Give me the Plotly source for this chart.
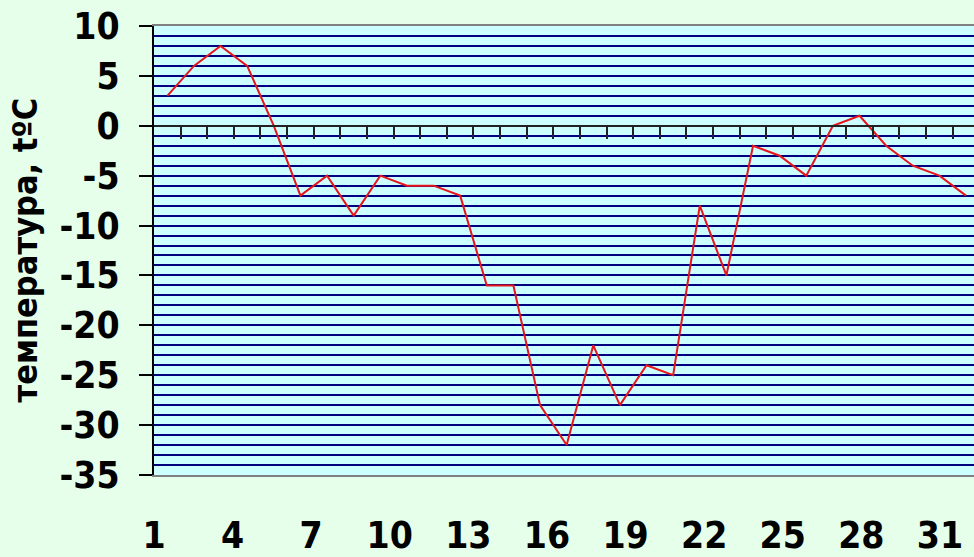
import plotly.graph_objects as go

# ---- data ----
days = list(range(1, 32))
temps = [3, 6, 8, 6, 0, -7, -5, -9, -5, -6, -6, -7, -16, -16, -28, -32, -22, -28,
         -24, -25, -8, -15, -2, -3, -5, 0, 1, -2, -4, -5, -7]
x_tick_labels = [1, 4, 7, 10, 13, 16, 19, 22, 25, 28, 31]
y_ticks = [10, 5, 0, -5, -10, -15, -20, -25, -30, -35]
y_title = "температура, tºC"

X_RANGE = [0.5, 31.3]
Y_RANGE = [-35, 10]

FONT = "DejaVu Sans Condensed, DejaVu Sans, sans-serif"

fig = go.Figure()
fig.add_trace(go.Scatter(x=days, y=temps, mode="lines",
                         line=dict(color="#E8141C", width=2),
                         showlegend=False, hoverinfo="skip"))
# invisible trace on the zero-crossing axis
fig.add_trace(go.Scatter(x=[days[0]], y=[0], xaxis="x2", mode="markers",
                         marker=dict(opacity=0), showlegend=False, hoverinfo="skip"))

label_pos = [k - 0.5 - 0.016 * (k - 1) for k in x_tick_labels]
zero_pos = (0 - Y_RANGE[0]) / (Y_RANGE[1] - Y_RANGE[0])

fig.update_layout(
    width=974, height=557,
    margin=dict(l=154, r=0, t=26, b=82),
    paper_bgcolor="#E6FFEA",
    plot_bgcolor="#CCFFFF",
    font=dict(family=FONT, color="black"),
    xaxis=dict(range=X_RANGE, showgrid=False, zeroline=False, automargin=False,
               showline=True, linecolor="#808080", linewidth=2, mirror=True,
               tickmode="array", tickvals=label_pos,
               ticktext=[str(k) for k in x_tick_labels],
               ticks="", ticklabelstandoff=27,
               tickfont=dict(family=FONT, size=37, color="black", weight="bold")),
    xaxis2=dict(range=X_RANGE, overlaying="x", anchor="free", position=zero_pos,
                side="bottom", showgrid=False, zeroline=False, automargin=False,
                showline=True, linecolor="#222222", linewidth=2,
                tickmode="array", tickvals=[d + 0.5 for d in days[:-1]],
                ticks="outside", ticklen=12, tickwidth=2, tickcolor="#222222",
                showticklabels=False),
    yaxis=dict(range=Y_RANGE, tickmode="array", tickvals=y_ticks,
               ticktext=[str(v) for v in y_ticks], automargin=False,
               ticks="outside", ticklen=13, tickwidth=2, tickcolor="black",
               showline=True, linecolor="black", linewidth=2,
               zeroline=False, showgrid=True, gridcolor="#000080", gridwidth=2,
               minor=dict(dtick=1, showgrid=True, gridcolor="#000080", gridwidth=2,
                          ticks=""),
               ticklabelstandoff=12,
               tickfont=dict(family=FONT, size=37, color="black", weight="bold")),
    annotations=[dict(text=y_title, xref="paper", yref="paper",
                      x=(24 - 154) / 820, y=0.5, xanchor="center", yanchor="middle",
                      textangle=-90, showarrow=False,
                      font=dict(family=FONT, size=34, color="black", weight="bold"))],
)

fig.write_html("out.html",
               config={"displayModeBar": False},
               post_script="document.body.style.margin='0';"
                           "document.body.style.overflow='hidden';")
